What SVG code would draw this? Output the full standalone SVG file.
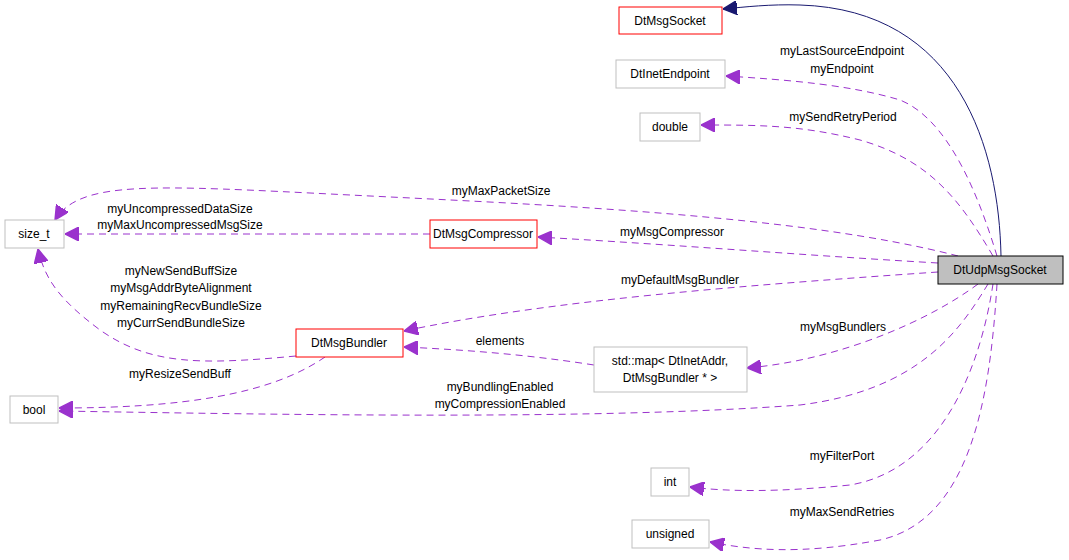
<svg xmlns="http://www.w3.org/2000/svg" width="1069" height="560" viewBox="0 0 1069 560">
<style>
text{font-family:"Liberation Sans",Arial,sans-serif;font-size:12px;fill:#000}
.n{fill:#fff;stroke:#bfbfbf}
.r{fill:#fff;stroke:#ff0000}
.e{fill:none;stroke:#9a32cd;stroke-dasharray:7,5}
.b{fill:none;stroke:#191970}
.m{text-anchor:middle}
</style>
<defs>
<marker id="pa" viewBox="0 0 10 10" refX="10" refY="5" markerWidth="14" markerHeight="14" markerUnits="userSpaceOnUse" orient="auto"><path d="M0,0L10,5L0,10z" fill="#9a32cd" stroke="#9a32cd"/></marker>
<marker id="ba" viewBox="0 0 10 10" refX="10" refY="5" markerWidth="14" markerHeight="14" markerUnits="userSpaceOnUse" orient="auto"><path d="M0,0L10,5L0,10z" fill="#191970" stroke="#191970"/></marker>
</defs>
<rect width="1069" height="560" fill="#fff"/>
<g id="edges">
<path class="b" d="M1001,256C999,150 960,10 800,5C770,4 745,7 723,9" marker-end="url(#ba)"/>
<path class="e" d="M997,256C980,200 950,120 900,100C850,85 790,80 726,76" marker-end="url(#pa)"/>
<path class="e" d="M993,256C960,200 930,160 860,140C800,125 760,125 701,125" marker-end="url(#pa)"/>
<path class="e" d="M958,256C800,215 550,205 350,195C150,185 80,180 55,220" marker-end="url(#pa)"/>
<path class="e" d="M938,263C800,255 680,245 538,237" marker-end="url(#pa)"/>
<path class="e" d="M430,234L65,234" marker-end="url(#pa)"/>
<path class="e" d="M938,272C750,285 550,300 404,331" marker-end="url(#pa)"/>
<path class="e" d="M978,284C930,320 840,360 747,368" marker-end="url(#pa)"/>
<path class="e" d="M594,365C530,355 470,350 404,347" marker-end="url(#pa)"/>
<path class="e" d="M296,356C200,365 150,365 100,330C60,300 45,280 38,249" marker-end="url(#pa)"/>
<path class="e" d="M325,357C270,395 180,408 59,408" marker-end="url(#pa)"/>
<path class="e" d="M988,284C960,330 920,390 800,405C600,420 300,415 59,411" marker-end="url(#pa)"/>
<path class="e" d="M993,284C980,370 940,470 850,485C780,492 730,492 690,487" marker-end="url(#pa)"/>
<path class="e" d="M997,284C990,400 970,520 880,540C800,555 750,550 710,542" marker-end="url(#pa)"/>
</g>
<g id="labels">
<text x="842" y="55" class="m">myLastSourceEndpoint</text>
<text x="842" y="73" class="m">myEndpoint</text>
<text x="843" y="121" class="m">mySendRetryPeriod</text>
<text x="501" y="195" class="m">myMaxPacketSize</text>
<text x="180" y="213" class="m">myUncompressedDataSize</text>
<text x="180" y="229" class="m">myMaxUncompressedMsgSize</text>
<text x="672" y="236" class="m">myMsgCompressor</text>
<text x="680" y="284" class="m">myDefaultMsgBundler</text>
<text x="181" y="275" class="m">myNewSendBuffSize</text>
<text x="181" y="292" class="m">myMsgAddrByteAlignment</text>
<text x="181" y="310" class="m">myRemainingRecvBundleSize</text>
<text x="181" y="327" class="m">myCurrSendBundleSize</text>
<text x="843" y="331" class="m">myMsgBundlers</text>
<text x="500" y="345" class="m">elements</text>
<text x="180" y="378" class="m">myResizeSendBuff</text>
<text x="500" y="391" class="m">myBundlingEnabled</text>
<text x="500" y="408" class="m">myCompressionEnabled</text>
<text x="842" y="460" class="m">myFilterPort</text>
<text x="842" y="516" class="m">myMaxSendRetries</text>
</g>
<g id="DtMsgSocket"><rect class="r" x="619" y="7" width="103" height="27"/><text x="670" y="25" class="m">DtMsgSocket</text></g>
<g id="DtInetEndpoint"><rect class="n" x="616" y="60" width="109" height="28"/><text x="670" y="78" class="m">DtInetEndpoint</text></g>
<g id="double"><rect class="n" x="640" y="113" width="60" height="28"/><text x="670" y="131" class="m">double</text></g>
<g id="size_t"><rect class="n" x="5" y="220" width="59" height="28"/><text x="34" y="238" class="m">size_t</text></g>
<g id="DtMsgCompressor"><rect class="r" x="430" y="220" width="107" height="28"/><text x="483" y="238" class="m">DtMsgCompressor</text></g>
<g id="DtUdpMsgSocket"><rect x="938" y="256" width="125" height="28" fill="#bfbfbf" stroke="#000"/><text x="1000" y="274" class="m">DtUdpMsgSocket</text></g>
<g id="DtMsgBundler"><rect class="r" x="296" y="329" width="107" height="28"/><text x="349" y="347" class="m">DtMsgBundler</text></g>
<g id="stdmap"><rect class="n" x="594" y="347" width="153" height="45"/><text x="670" y="365" class="m">std::map&lt; DtInetAddr,</text><text x="670" y="382" class="m">DtMsgBundler * &gt;</text></g>
<g id="bool"><rect class="n" x="10" y="396" width="48" height="27"/><text x="34" y="414" class="m">bool</text></g>
<g id="int"><rect class="n" x="651" y="468" width="38" height="28"/><text x="670" y="486" class="m">int</text></g>
<g id="unsigned"><rect class="n" x="632" y="520" width="77" height="28"/><text x="670" y="538" class="m">unsigned</text></g>
</svg>
